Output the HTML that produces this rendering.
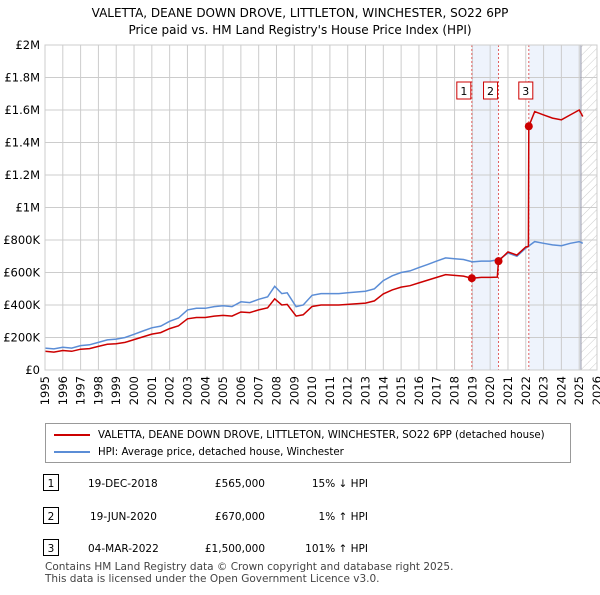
<!DOCTYPE html>
<html><head><meta charset="utf-8"><style>
body{margin:0;background:#fff;font-family:"Liberation Sans","DejaVu Sans",sans-serif;}
svg text{font-family:"DejaVu Sans","Liberation Sans",sans-serif;}
</style></head><body>
<svg id="c" width="600" height="590" xmlns="http://www.w3.org/2000/svg">
<text x="300" y="17" text-anchor="middle" font-size="12" fill="#000">VALETTA, DEANE DOWN DROVE, LITTLETON, WINCHESTER, SO22 6PP</text>
<text x="300" y="34" text-anchor="middle" font-size="12" fill="#000">Price paid vs. HM Land Registry's House Price Index (HPI)</text>
<g id="plot"></g>
<g>
<rect x="45.5" y="423.5" width="525" height="39" fill="#fff" stroke="#999"/>
<line x1="54" y1="435" x2="90" y2="435" stroke="#cc0000" stroke-width="2"/>
<text x="98" y="438" font-size="10.2">VALETTA, DEANE DOWN DROVE, LITTLETON, WINCHESTER, SO22 6PP (detached house)</text>
<line x1="54" y1="452" x2="90" y2="452" stroke="#5b8dd6" stroke-width="2"/>
<text x="98" y="455" font-size="10.2">HPI: Average price, detached house, Winchester</text>
</g>
<g font-size="10.5">
<rect x="43.5" y="474.5" width="15" height="16" fill="#fff" stroke="#000"/><text x="51" y="487" text-anchor="middle">1</text>
<text x="88" y="487">19-DEC-2018</text><text x="265" y="487" text-anchor="end">£565,000</text><text x="368" y="487" text-anchor="end">15% ↓ HPI</text>
<rect x="43.5" y="507.5" width="15" height="16" fill="#fff" stroke="#000"/><text x="51" y="520" text-anchor="middle">2</text>
<text x="90" y="520">19-JUN-2020</text><text x="265" y="520" text-anchor="end">£670,000</text><text x="368" y="520" text-anchor="end">1% ↑ HPI</text>
<rect x="43.5" y="539.5" width="15" height="16" fill="#fff" stroke="#000"/><text x="51" y="552" text-anchor="middle">3</text>
<text x="88" y="552">04-MAR-2022</text><text x="265" y="552" text-anchor="end">£1,500,000</text><text x="368" y="552" text-anchor="end">101% ↑ HPI</text>
</g>
<text x="45" y="570" font-size="10.5" fill="#444">Contains HM Land Registry data © Crown copyright and database right 2025.</text>
<text x="45" y="582" font-size="10.5" fill="#444">This data is licensed under the Open Government Licence v3.0.</text>
</svg>
<script>
const hpiYears=[1995,1995.5,1996,1996.5,1997,1997.5,1998,1998.5,1999,1999.5,2000,2000.5,2001,2001.5,2002,2002.5,2003,2003.5,2004,2004.5,2005,2005.5,2006,2006.5,2007,2007.5,2007.9,2008.3,2008.6,2009.1,2009.5,2010,2010.5,2011,2011.5,2012,2012.5,2013,2013.5,2014,2014.5,2015,2015.5,2016,2016.5,2017,2017.5,2018,2018.5,2019,2019.5,2020,2020.5,2021,2021.5,2022,2022.5,2023,2023.5,2024,2024.5,2025,2025.2];
const hpiValues=[135,130,140,135,150,155,170,185,190,200,220,240,260,270,300,320,370,380,380,390,395,390,420,415,435,450,515,470,475,390,400,460,470,470,470,475,480,485,500,550,580,600,610,630,650,670,690,685,680,665,670,670,680,720,700,750,790,780,770,765,780,790,780];
const redYears=[1995,1995.5,1996,1996.5,1997,1997.5,1998,1998.5,1999,1999.5,2000,2000.5,2001,2001.5,2002,2002.5,2003,2003.5,2004,2004.5,2005,2005.5,2006,2006.5,2007,2007.5,2007.9,2008.3,2008.6,2009.1,2009.5,2010,2010.5,2011,2011.5,2012,2012.5,2013,2013.5,2014,2014.5,2015,2015.5,2016,2016.5,2017,2017.5,2018,2018.5,2018.97,2019.5,2020,2020.4,2020.47,2021,2021.5,2022,2022.15,2022.17,2022.5,2023,2023.5,2024,2024.5,2025,2025.2];
const redValues=[115,110,120,115,128,132,145,158,162,170,187,204,221,230,255,272,315,323,323,332,336,332,357,353,370,383,438,400,404,332,340,391,400,400,400,404,408,412,425,468,493,510,519,536,553,570,587,582,578,565,570,570,572,670,727,707,757,760,1500,1590,1570,1550,1540,1570,1600,1560];
const saleYears=[2018.97,2020.47,2022.17];
const saleValues=[565,670,1500];
const saleLabels=["1","2","3"];
const yTicks=[0,200,400,600,800,1000,1200,1400,1600,1800,2000];
const yTickLabels=["£0","£200K","£400K","£600K","£800K","£1M","£1.2M","£1.4M","£1.6M","£1.8M","£2M"];
const xTicks=[1995,1996,1997,1998,1999,2000,2001,2002,2003,2004,2005,2006,2007,2008,2009,2010,2011,2012,2013,2014,2015,2016,2017,2018,2019,2020,2021,2022,2023,2024,2025,2026];

const L=45,R=597,T=45,B=370;
const xs=y=>L+(y-1995)/(2026-1995)*(R-L);
const ys=v=>B-v/2000*(B-T);
const NS="http://www.w3.org/2000/svg";
const g=document.getElementById('plot');
function mk(tag,attrs,parent){const e=document.createElementNS(NS,tag);for(const k in attrs)e.setAttribute(k,attrs[k]);(parent||g).appendChild(e);return e;}
let s=mk('rect',{x:xs(saleYears[0]),y:T,width:xs(saleYears[1])-xs(saleYears[0]),height:B-T,fill:'#eef3fc'});


s=mk('rect',{x:xs(saleYears[2]),y:T,width:xs(2025.1)-xs(saleYears[2]),height:B-T,fill:'#eef3fc'});


const defs=mk('defs',{});
const p=mk('pattern',{id:'h',width:6,height:6,patternUnits:'userSpaceOnUse',patternTransform:'rotate(45)'},defs);
mk('line',{x1:0,y1:0,x2:0,y2:6,stroke:'#ccc','stroke-width':1},p);
s=mk('rect',{x:xs(2025.1),y:T,width:R-xs(2025.1),height:B-T,fill:'url(#h)'});


yTicks.forEach((v,i)=>{
  mk('line',{x1:L,x2:R,y1:ys(v),y2:ys(v),stroke:'#ccc'});
  const t=mk('text',{x:40,y:ys(v)+4,'text-anchor':'end','font-size':11.5});t.textContent=yTickLabels[i];
  
  
});
xTicks.forEach(y=>{
  mk('line',{x1:xs(y),x2:xs(y),y1:T,y2:B,stroke:'#ccc'});
  const t=mk('text',{x:0,y:0,'font-size':11.5,'text-anchor':'end',transform:`translate(${xs(y)+4},${B+6}) rotate(-90)`});t.textContent=y;
  
  
});
mk('line',{x1:xs(2025.1),x2:xs(2025.1),y1:T,y2:B,stroke:'#99a'});
saleYears.forEach(y=>{mk('line',{x1:xs(y),x2:xs(y),y1:T,y2:B,stroke:'#e06060','stroke-dasharray':'2,2'});});
const path=(X,V)=>X.map((x,i)=>(i?'L':'M')+xs(x).toFixed(1)+','+ys(V[i]).toFixed(1)).join('');
let l=mk('path',{d:path(hpiYears,hpiValues),fill:'none',stroke:'#5b8dd6','stroke-width':1.5});


l=mk('path',{d:path(redYears,redValues),fill:'none',stroke:'#cc0000','stroke-width':1.5});


saleYears.forEach((y,i)=>{
  const c=mk('circle',{cx:xs(y),cy:ys(saleValues[i]),r:4,fill:'#cc0000'});
  
  
  const bx=xs(y)-(i==2?3:8)-7;
  const r=mk('rect',{x:bx,y:82,width:14,height:17,fill:'#fff',stroke:'#cc0000'});
  
  
  const t=mk('text',{x:bx+7,y:95,'text-anchor':'middle','font-size':11});t.textContent=saleLabels[i];
});
mk('rect',{x:L,y:T,width:R-L,height:B-T,fill:'none',stroke:'#ccc'});
</script>
</body></html>
